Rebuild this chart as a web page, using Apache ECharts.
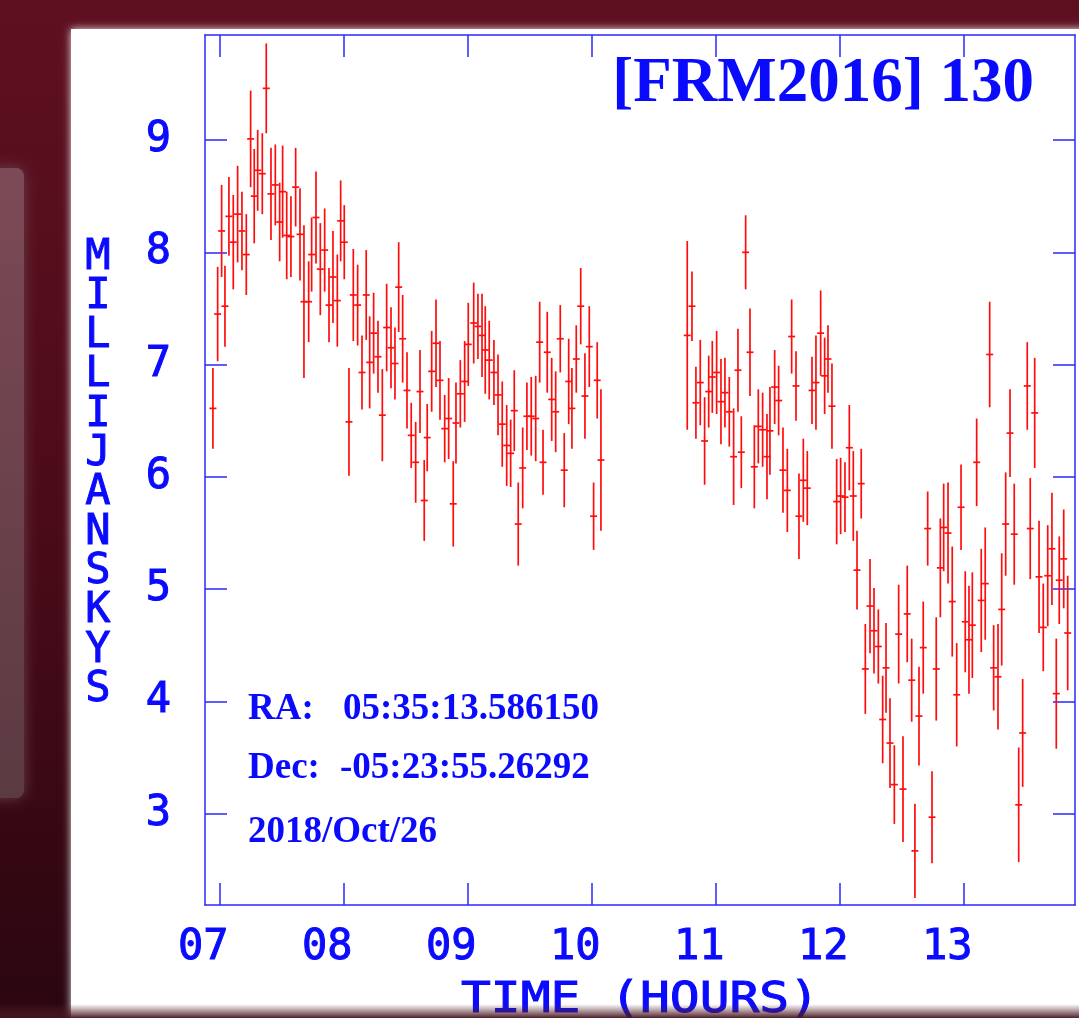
<!DOCTYPE html>
<html>
<head>
<meta charset="utf-8">
<script src="https://cdn.jsdelivr.net/npm/echarts@6/dist/echarts.min.js"></script>
<style>html,body{margin:0;padding:0;background:#4a0b18;}#c{width:1079px;height:1018px;}</style>
</head>
<body>
<div id="c"></div>
<script>
// Time (hours, UT) of each sample
const hours = [6.949,6.987,7.019,7.046,7.078,7.113,7.148,7.183,7.218,7.253,7.282,7.310,7.347,7.379,7.417,7.452,7.487,7.511,7.544,7.578,7.616,7.651,7.683,7.721,7.745,7.780,7.815,7.850,7.885,7.917,7.952,7.979,8.008,
8.046,8.081,8.116,8.151,8.185,8.213,8.245,8.280,8.315,8.350,8.385,8.417,8.447,8.479,8.514,8.548,8.584,8.619,8.653,8.677,8.713,8.748,8.780,8.818,8.850,8.887,8.909,8.944,8.979,9.008,
9.052,9.086,9.119,9.145,9.177,9.215,9.248,9.282,9.318,9.350,9.379,9.411,9.447,9.481,9.516,9.552,9.584,9.611,9.645,9.681,9.713,9.750,9.782,9.818,9.844,9.879,9.915,9.949,9.984,10.019,10.048,10.078,
10.774,10.812,10.844,10.879,10.914,10.947,10.976,11.011,11.046,11.078,11.113,11.148,11.183,11.210,11.245,11.280,11.315,11.347,11.382,11.417,11.441,11.479,11.511,11.546,11.581,11.616,11.651,
11.675,11.710,11.742,11.780,11.812,11.850,11.882,11.909,11.941,11.979,12.011,12.046,12.081,12.113,12.143,12.177,
12.210,12.248,12.280,12.315,12.350,12.377,12.409,12.444,12.479,12.514,12.548,12.584,12.610,12.643,12.677,12.713,12.748,12.782,12.815,12.842,12.877,12.911,12.947,12.982,13.016,13.046,
13.073,13.108,13.145,13.177,13.213,13.245,13.280,13.310,13.342,13.377,13.411,13.447,13.479,13.516,13.540,13.576,13.611,13.645,13.681,13.715,13.750,13.774,13.810,13.842];

// Flux density (mJy)
const flux = [6.61,7.45,8.19,7.52,8.32,8.09,8.34,8.19,7.98,9.01,8.50,8.73,8.70,9.46,8.52,8.60,8.27,8.54,8.15,8.14,8.58,8.16,7.56,7.56,7.98,8.31,7.85,8.02,7.53,7.78,7.57,8.28,8.09,
6.49,7.62,7.53,6.93,7.62,7.02,7.28,7.07,6.55,7.33,7.15,7.01,7.69,7.23,6.77,6.37,6.13,6.76,5.79,6.35,6.94,7.19,6.86,6.43,6.52,5.76,6.48,6.74,6.85,7.18,
7.37,7.34,7.26,7.13,7.04,6.93,6.73,6.47,6.28,6.21,6.59,5.58,6.08,6.54,6.54,6.52,7.20,6.13,7.11,6.69,6.58,7.23,6.06,6.85,6.61,7.05,7.52,6.72,7.16,5.65,6.86,6.15,
7.26,7.52,6.66,6.84,6.32,6.76,6.89,6.93,6.67,6.75,6.58,6.18,6.95,6.22,8.00,7.11,6.09,6.45,6.42,6.18,6.41,6.80,6.68,6.06,5.88,7.25,6.81,
5.65,5.97,5.90,6.77,6.84,7.28,6.90,7.05,6.63,5.78,5.83,5.82,6.26,5.83,5.17,5.94,
4.29,4.85,4.63,4.49,3.84,4.30,3.63,3.26,4.60,3.22,4.78,4.19,2.67,3.87,4.48,5.54,2.97,4.29,5.19,5.55,5.50,4.89,4.06,5.73,4.71,4.55,
4.68,6.13,4.90,5.05,7.09,4.30,4.22,4.82,5.58,6.39,5.49,3.08,3.72,6.81,5.54,6.57,5.11,4.66,5.12,5.36,4.07,5.08,5.27,4.61];

// 1-sigma error (mJy)
const fluxErr = [0.36,0.42,0.41,0.36,0.35,0.42,0.43,0.35,0.36,0.43,0.42,0.36,0.36,0.40,0.41,0.36,0.35,0.41,0.39,0.36,0.35,0.41,0.68,0.36,0.33,0.41,0.41,0.37,0.33,0.41,0.41,0.36,0.33,
0.48,0.41,0.36,0.33,0.40,0.41,0.36,0.32,0.41,0.39,0.36,0.32,0.40,0.39,0.34,0.29,0.36,0.37,0.36,0.30,0.36,0.39,0.35,0.30,0.36,0.38,0.36,0.30,0.36,0.37,
0.36,0.29,0.37,0.39,0.35,0.29,0.36,0.38,0.36,0.30,0.36,0.37,0.36,0.30,0.35,0.38,0.36,0.29,0.36,0.37,0.36,0.30,0.33,0.38,0.36,0.30,0.34,0.38,0.36,0.30,0.34,0.63,
0.84,0.31,0.32,0.38,0.39,0.32,0.32,0.37,0.38,0.31,0.31,0.43,0.37,0.32,0.33,0.39,0.37,0.33,0.33,0.38,0.39,0.33,0.31,0.38,0.37,0.33,0.31,
0.38,0.37,0.33,0.30,0.42,0.38,0.34,0.30,0.38,0.38,0.34,0.31,0.38,0.40,0.35,0.31,
0.40,0.42,0.38,0.33,0.39,0.40,0.40,0.35,0.44,0.47,0.43,0.37,0.42,0.44,0.41,0.33,0.41,0.46,0.44,0.39,0.45,0.49,0.46,0.38,0.45,0.48,
0.47,0.39,0.46,0.50,0.47,0.38,0.47,0.50,0.46,0.39,0.45,0.51,0.48,0.39,0.45,0.49,0.50,0.39,0.45,0.50,0.49,0.39,0.44,0.51];

// half width of each time bin (hours)
const binHalf = 0.028;

const xTicks = [7, 8, 9, 10, 11, 12, 13];
const yTicks = [3, 4, 5, 6, 7, 8, 9];
const xRange = [6.885, 13.901];
const yRange = [2.188, 9.935];

const titleText = '[FRM2016] 130';
const yTitle = 'MILLIJANSKYS';
const xTitle = 'TIME (HOURS)';
const infoLines = [['RA:', '05:35:13.586150'], ['Dec:', '-05:23:55.26292'], ['2018/Oct/26', '']];

const data = hours.map((t, i) => [t, flux[i], fluxErr[i]]);

const BLUE = '#0a0aff';
const FRAME = '#2a2aff';
const mono = '"DejaVu Sans Mono", monospace';
const serif = '"Liberation Serif", "Times New Roman", serif';

const chart = echarts.init(document.getElementById('c'), null, {renderer: 'canvas'});

const baseAxis = {
  type: 'value', scale: true,
  axisLine: {show: true, onZero: false, lineStyle: {color: FRAME, width: 1.5}},
  splitLine: {show: false}
};

const option = {
  animation: false,
  backgroundColor: 'transparent',
  grid: {left: 205, top: 35, width: 870, height: 870, containLabel: false},
  xAxis: [
    Object.assign({}, baseAxis, {
      position: 'bottom', min: xRange[0], max: xRange[1],
      axisTick: {show: true, inside: true, length: 22, customValues: xTicks, lineStyle: {color: FRAME, width: 1.5}},
      axisLabel: {show: true, customValues: xTicks, margin: 22, padding: [0, 32, 0, 0],
        formatter: v => (v < 10 ? '0' : '') + v,
        color: BLUE, fontFamily: mono, fontWeight: 'normal', fontSize: 42,
        textBorderColor: BLUE, textBorderWidth: 1}
    }),
    Object.assign({}, baseAxis, {
      position: 'top', min: xRange[0], max: xRange[1],
      axisTick: {show: true, inside: true, length: 22, customValues: xTicks, lineStyle: {color: FRAME, width: 1.5}},
      axisLabel: {show: false}
    })
  ],
  yAxis: [
    Object.assign({}, baseAxis, {
      position: 'left', min: yRange[0], max: yRange[1],
      axisTick: {show: true, inside: true, length: 22, customValues: yTicks, lineStyle: {color: FRAME, width: 1.5}},
      axisLabel: {show: true, customValues: yTicks, margin: 34, padding: [6, 0, 0, 0],
        color: BLUE, fontFamily: mono, fontWeight: 'normal', fontSize: 42,
        textBorderColor: BLUE, textBorderWidth: 1}
    }),
    Object.assign({}, baseAxis, {
      position: 'right', min: yRange[0], max: yRange[1],
      axisTick: {show: true, inside: true, length: 22, customValues: yTicks, lineStyle: {color: FRAME, width: 1.5}},
      axisLabel: {show: false}
    })
  ],
  series: [{
    type: 'custom',
    xAxisIndex: 0, yAxisIndex: 0,
    data: data,
    encode: {x: 0, y: 1},
    clip: true,
    renderItem: function (params, api) {
      const t = api.value(0), v = api.value(1), e = api.value(2);
      const top = api.coord([t, v + e]);
      const bot = api.coord([t, v - e]);
      const l = api.coord([t - binHalf, v]);
      const r = api.coord([t + binHalf, v]);
      const st = {stroke: '#ff0d0d', lineWidth: 1.7};
      return {
        type: 'group',
        children: [
          {type: 'line', shape: {x1: top[0], y1: top[1], x2: bot[0], y2: bot[1]}, style: st},
          {type: 'line', shape: {x1: l[0], y1: l[1], x2: r[0], y2: r[1]}, style: st}
        ]
      };
    }
  }],
  graphic: {
    elements: [
      // dark red surround
      {type: 'rect', z: -100, silent: true, shape: {x: 0, y: 0, width: 1079, height: 1018},
        style: {fill: new echarts.graphic.LinearGradient(0, 0, 0, 1, [
          {offset: 0, color: '#5f1020'}, {offset: 0.5, color: '#4c0b19'}, {offset: 1, color: '#2a0610'}])}},
      // lighter blurred panel at far left
      {type: 'rect', z: -99, silent: true, shape: {x: -20, y: 168, width: 44, height: 630, r: 8},
        style: {fill: new echarts.graphic.LinearGradient(0, 0, 0, 1, [
          {offset: 0, color: '#7c4a56'}, {offset: 1, color: '#5b3a42'}]),
          shadowBlur: 14, shadowColor: '#6a4049'}},
      // white chart panel
      {type: 'rect', z: -98, silent: true, shape: {x: 71, y: 29, width: 1040, height: 1000},
        style: {fill: '#ffffff', shadowBlur: 8, shadowColor: 'rgba(255,255,255,0.9)'}},
      // title
      {type: 'text', z: 50, silent: true, style: {x: 1034, y: 85, text: titleText, textAlign: 'right', textVerticalAlign: 'middle',
        font: 'bold 63px ' + serif, fill: BLUE}},
      // info texts
      {type: 'text', z: 50, silent: true, style: {x: 248, y: 709, text: infoLines[0][0], textVerticalAlign: 'middle', font: 'bold 37px ' + serif, fill: BLUE}},
      {type: 'text', z: 50, silent: true, style: {x: 343, y: 709, text: infoLines[0][1], textVerticalAlign: 'middle', font: 'bold 37px ' + serif, fill: BLUE}},
      {type: 'text', z: 50, silent: true, style: {x: 248, y: 768, text: infoLines[1][0], textVerticalAlign: 'middle', font: 'bold 37px ' + serif, fill: BLUE}},
      {type: 'text', z: 50, silent: true, style: {x: 340, y: 768, text: infoLines[1][1], textVerticalAlign: 'middle', font: 'bold 37px ' + serif, fill: BLUE}},
      {type: 'text', z: 50, silent: true, style: {x: 248, y: 832, text: infoLines[2][0], textVerticalAlign: 'middle', font: 'bold 37px ' + serif, fill: BLUE}},
      // y-axis title, stacked letters
      {type: 'text', z: 50, silent: true, style: {x: 98, y: 238, text: yTitle.split('').join('\n'), textAlign: 'center', textVerticalAlign: 'top',
        font: '42px ' + mono, lineHeight: 39.3, fill: BLUE, stroke: BLUE, lineWidth: 1}},
      // x-axis title
      {type: 'text', z: 50, silent: true, x: 640, y: 1001, scaleX: 1.18, style: {x: 0, y: 0, text: xTitle, textAlign: 'center', textVerticalAlign: 'middle',
        font: '42px ' + mono, fill: BLUE, stroke: BLUE, lineWidth: 1}},
      // bottom shade
      {type: 'rect', z: 100, silent: true, shape: {x: 0, y: 1004, width: 1079, height: 14},
        style: {fill: new echarts.graphic.LinearGradient(0, 0, 0, 1, [
          {offset: 0, color: 'rgba(90,40,50,0)'}, {offset: 1, color: 'rgba(70,20,30,0.95)'}])}}
    ]
  }
};
chart.setOption(option);
</script>
</body>
</html>
